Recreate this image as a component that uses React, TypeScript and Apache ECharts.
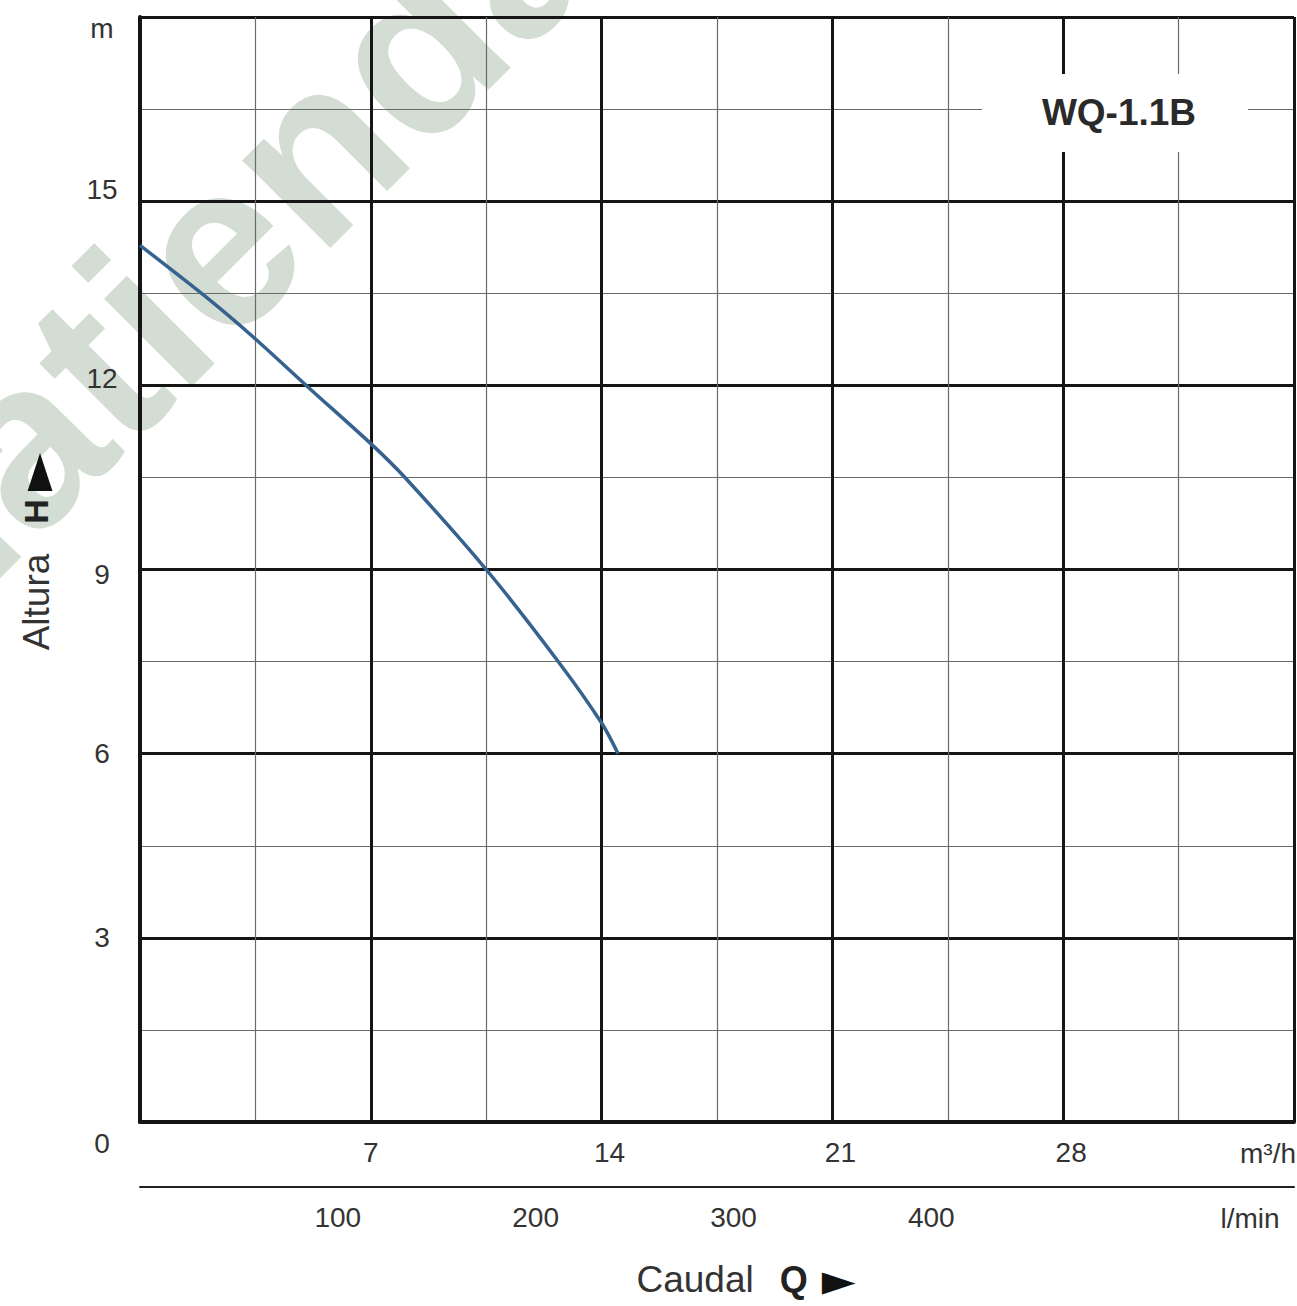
import React, { useEffect, useRef } from "react";
import * as echarts from "echarts";

const flowM3h = [0, 2.0, 3.45, 5.1, 7.0, 8.05, 10.5, 12.7, 14.0, 14.5];
const headM = [14.28, 13.44, 12.78, 11.97, 11.05, 10.49, 9.0, 7.49, 6.5, 6.0];

const xTickLabels = [7, 14, 21, 28];
const lminTickLabels = [100, 200, 300, 400];
const yTickLabels = [0, 3, 6, 9, 12, 15];

const modelName = "WQ-1.1B";
const watermarkText = "aguatienda";
const flowUnit = "m³/h";
const flowUnit2 = "l/min";

const X_MAX = 35;
const Y_MAX = 18;
const LMIN_MAX = (X_MAX * 1000) / 60;

const FONT = '"Liberation Sans", Arial, Helvetica, sans-serif';
const TXT = "#333333";
const MAJOR = "#151515";
const MINOR = "#6a6a6a";

export default function App() {
  const ref = useRef<HTMLDivElement>(null);

  useEffect(() => {
    if (!ref.current) return;
    const chart = echarts.init(ref.current, undefined, { renderer: "svg" });

    const yRich: Record<string, any> = {
      base: { fontSize: 28, color: TXT, fontFamily: FONT },
      m: { fontSize: 28, color: TXT, fontFamily: FONT, padding: [22, 0, 0, 0] },
      u13: { fontSize: 28, color: TXT, fontFamily: FONT, padding: [0, 0, 24, 0] },
      u8: { fontSize: 28, color: TXT, fontFamily: FONT, padding: [0, 0, 14, 0] },
      d5: { fontSize: 28, color: TXT, fontFamily: FONT, padding: [10, 0, 0, 0] },
      d20: { fontSize: 28, color: TXT, fontFamily: FONT, padding: [42, 0, 0, 0] },
    };

    const option: any = {
      animation: false,
      backgroundColor: "#ffffff",
      grid: { left: 140, top: 17, right: -9.5, bottom: 184, containLabel: false },
      xAxis: [
        {
          type: "value",
          min: 0,
          max: X_MAX,
          interval: 7,
          position: "bottom",
          axisLine: { show: true, lineStyle: { color: MAJOR, width: 4 } },
          axisTick: { show: false },
          minorTick: { show: true, splitNumber: 2, length: 0 },
          axisLabel: {
            margin: 16,
            fontSize: 28,
            color: TXT,
            fontFamily: FONT,
            formatter: (v: number) => {
              if (!xTickLabels.includes(v)) return "";
              return v === 7 ? "{a|" + v + "}" : "{b|" + v + "}";
            },
            rich: {
              a: { fontSize: 28, color: TXT, fontFamily: FONT },
              b: { fontSize: 28, color: TXT, fontFamily: FONT, padding: [0, 0, 0, 16] },
            },
          },
          splitLine: { show: true, lineStyle: { color: MAJOR, width: 3 } },
          minorSplitLine: { show: true, lineStyle: { color: MINOR, width: 1.2 } },
        },
        {
          type: "value",
          min: 0,
          max: LMIN_MAX,
          interval: 100,
          position: "bottom",
          offset: 65,
          axisLine: { show: true, lineStyle: { color: "#222222", width: 2 } },
          axisTick: { show: false },
          splitLine: { show: false },
          axisLabel: {
            margin: 16,
            fontSize: 28,
            color: TXT,
            fontFamily: FONT,
            formatter: (v: number) => (lminTickLabels.includes(v) ? String(v) : ""),
          },
        },
      ],
      yAxis: {
        type: "value",
        min: 0,
        max: Y_MAX,
        interval: 3,
        axisLine: { show: true, lineStyle: { color: MAJOR, width: 4 } },
        axisTick: { show: false },
        minorTick: { show: true, splitNumber: 2, length: 0 },
        splitLine: { show: true, lineStyle: { color: MAJOR, width: 3 } },
        minorSplitLine: { show: true, lineStyle: { color: MINOR, width: 1.2 } },
        axisLabel: {
          margin: 38,
          align: "center",
          fontSize: 28,
          color: TXT,
          fontFamily: FONT,
          formatter: (v: number) => {
            if (v === Y_MAX) return "{m|m}";
            if (!yTickLabels.includes(v)) return "";
            const key = v === 15 ? "u13" : v === 12 ? "u8" : v === 9 ? "d5" : v === 0 ? "d20" : "base";
            return "{" + key + "|" + v + "}";
          },
          rich: yRich,
        },
        name: "{a|Altura}{b|H}{c|►}",
        nameLocation: "middle",
        nameRotate: 90,
        nameGap: 84,
        nameTextStyle: {
          padding: [0, 0, 0, 36],
          rich: {
            a: { fontSize: 37, color: TXT, fontFamily: FONT, padding: [0, 30, 0, 0] },
            b: { fontSize: 34, color: "#222", fontWeight: "bold", fontFamily: FONT, padding: [0, 8, 0, 0] },
            c: { fontSize: 50, lineHeight: 40, color: "#111", fontFamily: "DejaVu Sans" },
          },
        },
      },
      graphic: [
        {
          type: "text",
          x: 118,
          y: 345,
          rotation: Math.PI / 4,
          z: -10,
          silent: true,
          style: {
            text: watermarkText,
            fontSize: 235,
            fontWeight: "bold",
            fontFamily: FONT,
            fill: "#d3ddd3",
            align: "center",
            verticalAlign: "middle",
          },
        },
        {
          type: "rect",
          z: 50,
          shape: { x: 982, y: 74, width: 266, height: 78 },
          style: { fill: "#ffffff" },
        },
        {
          type: "text",
          z: 51,
          x: 1119,
          y: 112,
          style: {
            text: modelName,
            fontSize: 37,
            fontWeight: "bold",
            fontFamily: FONT,
            fill: "#2a2a2a",
            align: "center",
            verticalAlign: "middle",
          },
        },
        {
          type: "text",
          x: 1268,
          y: 1153,
          style: {
            text: flowUnit,
            fontSize: 28,
            fontFamily: FONT,
            fill: TXT,
            align: "center",
            verticalAlign: "middle",
          },
        },
        {
          type: "text",
          x: 1250,
          y: 1218,
          style: {
            text: flowUnit2,
            fontSize: 28,
            fontFamily: FONT,
            fill: TXT,
            align: "center",
            verticalAlign: "middle",
          },
        },
        {
          type: "text",
          x: 746,
          y: 1279,
          style: {
            text: "{a|Caudal}{b|Q}{c|►}",
            align: "center",
            verticalAlign: "middle",
            rich: {
              a: { fontSize: 37, lineHeight: 40, fill: TXT, fontFamily: FONT, padding: [0, 26, 0, 0] },
              b: { fontSize: 36, lineHeight: 40, fill: "#222", fontWeight: "bold", fontFamily: FONT, padding: [0, 14, 0, 0] },
              c: { fontSize: 44, lineHeight: 40, fill: "#111", fontFamily: "DejaVu Sans" },
            },
          },
        },
      ],
      series: [
        {
          type: "line",
          xAxisIndex: 0,
          data: flowM3h.map((q, i) => [q, headM[i]]),
          smooth: 0.3,
          symbol: "none",
          lineStyle: { color: "#36628f", width: 3.5 },
          z: 5,
        },
      ],
    };

    chart.setOption(option);
    return () => chart.dispose();
  }, []);

  return (
    <div
      ref={ref}
      style={{ position: "absolute", left: 0, top: 0, width: 1297, height: 1306, background: "#fff" }}
    />
  );
}
